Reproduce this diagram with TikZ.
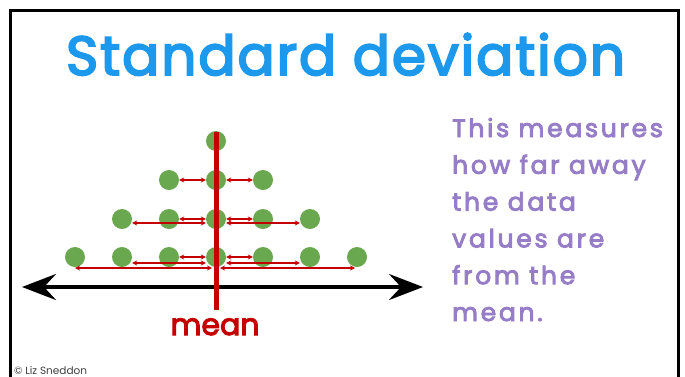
\documentclass[tikz,border=0pt]{standalone}
\usepackage{fontspec}
\setmainfont{Poppins}
\newfontfamily\medfont{Poppins}[FakeBold=3.5]
\usetikzlibrary{arrows.meta}
\definecolor{titleblue}{RGB}{28,152,236}
\definecolor{textpurple}{RGB}{150,125,200}
\definecolor{meanred}{RGB}{196,0,0}
\definecolor{dotgreen}{RGB}{106,168,79}
\tikzset{
  dot/.style={circle,fill=dotgreen,minimum size=20pt,inner sep=0pt},
  gap/.style={<->,meanred,line width=1.1pt},
}
\begin{document}
\begin{tikzpicture}[x=1pt,y=-1pt,>={Stealth[length=5pt,width=5pt]}]
   \useasboundingbox (0,0) rectangle (685,376);
   %frame
   \draw[line width=3pt] (10.5,385) -- (10.5,10.5) -- (678,10.5) -- (678,385);
   %title
   \node[anchor=base,text=titleblue,font=\medfont\fontsize{55}{60}\selectfont\addfontfeature{LetterSpace=3.5}] (title) at (345.5,75) {Standard deviation};
   %dots
   \node[dot] (d14) at (216,141) {};
   \node[dot] (d23) at (169,180) {};
   \node[dot] (d24) at (216,180) {};
   \node[dot] (d25) at (263,180) {};
   \node[dot] (d32) at (122,219) {};
   \node[dot] (d33) at (169,219) {};
   \node[dot] (d34) at (216,219) {};
   \node[dot] (d35) at (263,219) {};
   \node[dot] (d36) at (310,219) {};
   \node[dot] (d41) at (75,257) {};
   \node[dot] (d42) at (122,257) {};
   \node[dot] (d43) at (169,257) {};
   \node[dot] (d44) at (216,257) {};
   \node[dot] (d45) at (263,257) {};
   \node[dot] (d46) at (310,257) {};
   \node[dot] (d47) at (357,257) {};
   %axis
   \coordinate (axl) at (22,287);
   \coordinate (axr) at (423,287);
   \draw[{Stealth[length=34pt,width=26pt,inset=12pt]}-{Stealth[length=34pt,width=26pt,inset=12pt]},line width=4pt] (axl) -- (axr);
   %mean line
   \coordinate (mtop) at (216,132);
   \coordinate (mbot) at (216,310);
   \draw[meanred,line width=5pt] (mtop) -- (mbot);
   \node[anchor=base,text=meanred,font=\medfont\fontsize{30}{36}\selectfont] (mean) at (215,335) {mean};
   %distances
   \draw[gap] (d23.east) -- (d24.west);
   \draw[gap] (d24.east) -- (d25.west);
   \draw[gap] (d33.east) -- (d34.west);
   \draw[gap] (d34.east) -- (d35.west);
   \draw[gap] ([yshift=-4pt]d32.east) -- ([yshift=-4pt]d34.west);
   \draw[gap] ([yshift=-4pt]d34.east) -- ([yshift=-4pt]d36.west);
   \draw[gap] (d43.east) -- (d44.west);
   \draw[gap] (d44.east) -- (d45.west);
   \draw[gap] ([yshift=-6pt]d42.east) -- ([yshift=-6pt]d44.west);
   \draw[gap] ([yshift=-6pt]d44.east) -- ([yshift=-6pt]d46.west);
   \draw[gap] ([yshift=-11pt]d41.center) -- ([xshift=-4pt,yshift=-11pt]d44.center);
   \draw[gap] ([xshift=4pt,yshift=-11pt]d44.center) -- ([xshift=-2pt,yshift=-11pt]d47.center);
   %description
   \node[anchor=base west,align=left,text=textpurple,inner sep=0pt,font=\medfont\fontsize{25}{36.8}\selectfont\addfontfeature{LetterSpace=11}] (info) at (452,321) {This measures\\how far away\\the data\\values are\\from the\\mean.};
   %credit
   \node[anchor=base west,inner sep=0pt,text=black!75,font=\fontsize{10.5}{12}\selectfont] (credit) at (14,374) {© Liz Sneddon};
\end{tikzpicture}
\end{document}
